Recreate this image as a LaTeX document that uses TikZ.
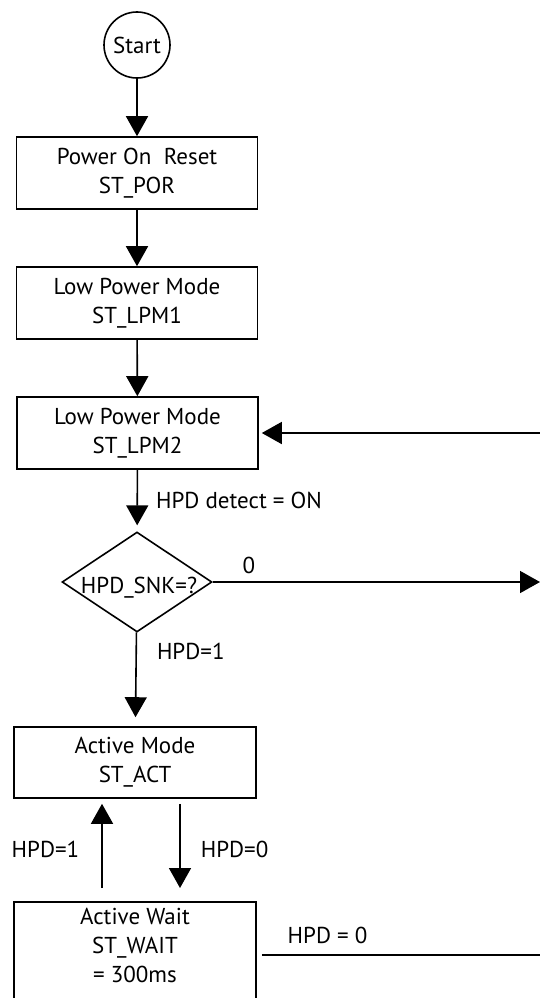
\documentclass[tikz,border=0pt]{standalone}
\usepackage{fontspec}
\setmainfont{PT Sans}
\usepackage{tikz}
\usetikzlibrary{positioning, arrows.meta, shapes}

\begin{document}
\begin{tikzpicture}[x=1pt,y=-1pt,
    state/.style={shape=rectangle,draw=black,line width=1.6pt,minimum width=241pt,minimum height=72pt,inner sep=0pt,align=center,font=\fontsize{23}{29}\selectfont},
    flow/.style={line width=1.6pt,-{Triangle[width=22pt,length=20pt]}},
    lbl/.style={font=\fontsize{23}{25}\selectfont,inner sep=0pt}]
    \clip (0,0) rectangle (540,998);

    \node[shape=circle,draw=black,line width=1.6pt,minimum size=66pt,inner sep=0pt,font=\fontsize{23}{25}\selectfont] (start) at (137,45) {Start};

    \node[state] (por) at (137,173) {Power On\ \ Reset\\ST\_POR};
    \path [flow] (start) edge (por);
    \node[state] (lpm1) at (137,303) {Low Power Mode\\ST\_LPM1};
    \path [flow] (por) edge (lpm1);
    \node[state] (lpm2) at (137.5,433) {Low Power Mode\\ST\_LPM2};
    \path [flow] (lpm1) edge (lpm2);
    \coordinate (back) at (545,433);
    \path [flow,shorten >=3pt] (back) edge (lpm2);

    \node[shape=diamond,draw=black,line width=1.6pt,aspect=1.5,minimum width=150pt,minimum height=100pt,inner sep=0pt,
          label={[lbl,yshift=-6pt,xshift=2pt]center:HPD\_SNK=?}] (snk) at (137,582) {};
    \path [flow,shorten >=6pt] (lpm2) edge node[lbl,right=18pt] {HPD detect = ON} (snk);
    \coordinate (miss) at (540,582);
    \path [flow] (snk) edge node[lbl,pos=0.11,above=7pt] {0} (miss);

    \node[state,minimum width=242pt,minimum height=71pt] (act) at (135,762.5) {Active Mode\\ST\_ACT};
    \path [flow,shorten >=9pt] (snk) edge node[lbl,pos=0.2,right=20pt] {HPD=1} (act);

    \node[state,minimum width=242pt,anchor=north,text depth=40pt,inner ysep=6pt] (wait) at (135,901) {Active Wait\\ST\_WAIT\\= 300ms};
    \path [flow,shorten <=13pt,shorten >=5pt] ([xshift=-33pt]wait.north) edge node[lbl,left=22pt] {HPD=1} ([xshift=-33pt]act.south);
    \path [flow,shorten <=5pt,shorten >=13pt] ([xshift=45pt]act.south) edge node[lbl,right=20pt] {HPD=0} ([xshift=45pt]wait.north);
    \coordinate (drop) at (540,955);
    \path [draw,line width=1.6pt,shorten <=5pt] (wait.east |- drop) edge node[lbl,pos=0.25,above=10pt] {HPD = 0} (drop);

  \end{tikzpicture}
\end{document}
